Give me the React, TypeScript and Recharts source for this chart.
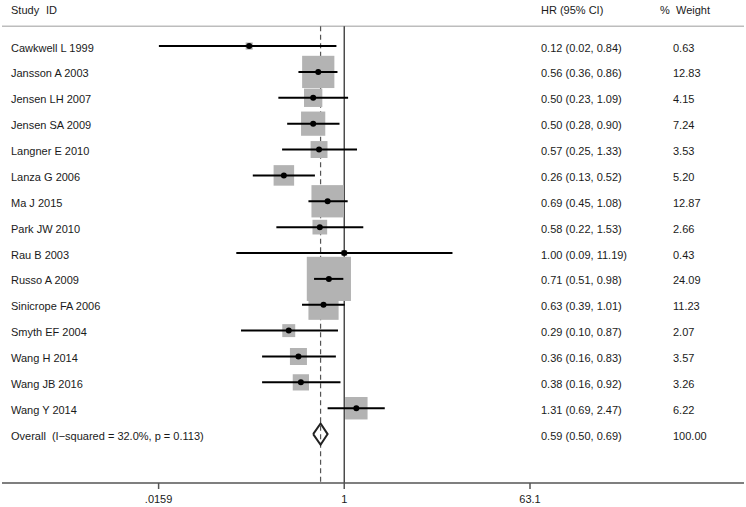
import { ScatterChart, Scatter, XAxis, YAxis, ReferenceLine } from "recharts";

const studies = [
  "Cawkwell L 1999",
  "Jansson A 2003",
  "Jensen LH 2007",
  "Jensen SA 2009",
  "Langner E 2010",
  "Lanza G 2006",
  "Ma J 2015",
  "Park JW 2010",
  "Rau B 2003",
  "Russo A 2009",
  "Sinicrope FA 2006",
  "Smyth EF 2004",
  "Wang H 2014",
  "Wang JB 2016",
  "Wang Y 2014",
];
const hr = [0.12, 0.56, 0.5, 0.5, 0.57, 0.26, 0.69, 0.58, 1.0, 0.71, 0.63, 0.29, 0.36, 0.38, 1.31];
const lower = [0.016, 0.36, 0.23, 0.28, 0.25, 0.13, 0.45, 0.22, 0.09, 0.51, 0.39, 0.1, 0.16, 0.16, 0.69];
const upper = [0.84, 0.86, 1.09, 0.9, 1.33, 0.52, 1.08, 1.53, 11.19, 0.98, 1.01, 0.87, 0.83, 0.92, 2.47];
const weights = [0.63, 12.83, 4.15, 7.24, 3.53, 5.2, 12.87, 2.66, 0.43, 24.09, 11.23, 2.07, 3.57, 3.26, 6.22];

const overallHr = 0.59;
const overallLower = 0.5;
const overallUpper = 0.69;
const overallWeight = 100;
const overallLabel = "Overall  (I\u2212squared = 32.0%, p = 0.113)";

const xTicks = [0.0159, 1, 63.1];
const xTickLabels = [".0159", "1", "63.1"];

const FONT = "'Liberation Sans', Arial, sans-serif";
const TEXT = "#1a1a1a";
const HEADER_Y = -1.47;
const HEADER_LINE_Y = -0.77;
const Y_DOMAIN: [number, number] = [-1.78, 16.89];
const X_DOMAIN: [number, number] = [4.83e-4, 7474];
const OVERALL_ROW = studies.length;
const DIAMOND_HALF = 0.41;

const fmt = (v: number) => v.toFixed(2);

const rows = studies.map((name, i) => ({ name, x: hr[i], y: i, w: weights[i] }));

// one two-point segment per study for the confidence interval
const ciSegments = studies.map((_, i) => [
  { x: lower[i], y: i },
  { x: upper[i], y: i },
]);

const diamond = [
  { x: overallLower, y: OVERALL_ROW },
  { x: overallHr, y: OVERALL_ROW - DIAMOND_HALF },
  { x: overallUpper, y: OVERALL_ROW },
  { x: overallHr, y: OVERALL_ROW + DIAMOND_HALF },
  { x: overallLower, y: OVERALL_ROW },
];

const rowTicks = [HEADER_Y, ...studies.map((_, i) => i), OVERALL_ROW];

const RowTick = (props: any) => {
  const { y, payload } = props;
  const v = payload.value;
  const common = { fontFamily: FONT, fontSize: 11, fill: TEXT, dy: 5.5, textAnchor: "start" as const };
  if (v === HEADER_Y) {
    return (
      <g>
        <text x={11} y={y} {...common}>Study</text>
        <text x={46} y={y} {...common}>ID</text>
        <text x={541} y={y} {...common}>HR (95% CI)</text>
        <text x={660} y={y} {...common}>%</text>
        <text x={676} y={y} {...common}>Weight</text>
      </g>
    );
  }
  const isOverall = v === OVERALL_ROW;
  const label = isOverall ? overallLabel : studies[v];
  const ci = isOverall
    ? `${fmt(overallHr)} (${fmt(overallLower)}, ${fmt(overallUpper)})`
    : `${fmt(hr[v])} (${fmt(lower[v])}, ${fmt(upper[v])})`;
  const wt = isOverall ? fmt(overallWeight) : fmt(weights[v]);
  return (
    <g>
      <text x={11} y={y} {...common} style={{ whiteSpace: "pre" }}>{label}</text>
      <text x={541} y={y} {...common}>{ci}</text>
      <text x={673} y={y} {...common}>{wt}</text>
    </g>
  );
};

const WeightBox = (props: any) => {
  const { cx, cy, payload } = props;
  const side = 9 * Math.sqrt(payload.w);
  return <rect x={cx - side / 2} y={cy - side / 2} width={side} height={side} fill="#b3b3b3" />;
};

const Dot = (props: any) => <circle cx={props.cx} cy={props.cy} r={3} fill="#000" />;
const Nothing = () => <g />;

export default function App() {
  return (
    <div style={{ position: "absolute", left: 0, top: 0, width: 746, height: 507, background: "#fff" }}>
      <ScatterChart width={746} height={507} margin={{ top: 0, right: 2, bottom: 0, left: 2 }}>
        <XAxis
          type="number"
          dataKey="x"
          scale="log"
          domain={X_DOMAIN}
          allowDataOverflow
          ticks={xTicks}
          interval={0}
          tickFormatter={(v: number) => xTickLabels[xTicks.indexOf(v)] ?? String(v)}
          height={24}
          tickSize={6}
          tickMargin={6}
          stroke="#555"
          strokeWidth={1.5}
          tick={{ fontFamily: FONT, fontSize: 11, fill: TEXT }}
        />
        <YAxis
          type="number"
          dataKey="y"
          domain={Y_DOMAIN}
          reversed
          allowDataOverflow
          mirror
          ticks={rowTicks}
          interval={0}
          axisLine={false}
          tickLine={false}
          tick={(p: any) => <RowTick {...p} key={p.payload.value} />}
        />
        <ReferenceLine y={HEADER_LINE_Y} stroke="#bdbdbd" strokeWidth={1.5} />
        <ReferenceLine
          segment={[
            { x: 1, y: HEADER_LINE_Y },
            { x: 1, y: Y_DOMAIN[1] },
          ]}
          stroke="#333"
          strokeWidth={1.3}
        />
        <ReferenceLine
          segment={[
            { x: overallHr, y: HEADER_LINE_Y },
            { x: overallHr, y: Y_DOMAIN[1] },
          ]}
          stroke="#555"
          strokeWidth={1.2}
          strokeDasharray="5 3.5"
        />
        <Scatter data={rows} shape={<WeightBox />} isAnimationActive={false} />
        {ciSegments.map((seg, i) => (
          <Scatter
            key={`ci-${i}`}
            data={seg}
            shape={<Nothing />}
            line={{ stroke: "#000", strokeWidth: 2 }}
            lineJointType="linear"
            isAnimationActive={false}
          />
        ))}
        <Scatter data={rows} shape={<Dot />} isAnimationActive={false} />
        <Scatter
          data={diamond}
          shape={<Nothing />}
          line={{ stroke: "#222", strokeWidth: 2 }}
          lineJointType="linear"
          isAnimationActive={false}
        />
      </ScatterChart>
    </div>
  );
}
